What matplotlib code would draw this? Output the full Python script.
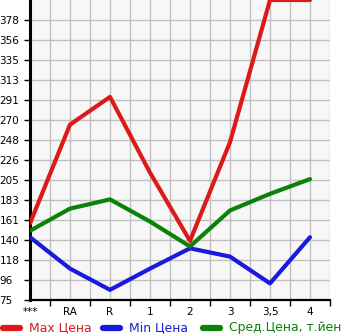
import matplotlib
matplotlib.use('Agg')
import matplotlib.pyplot as plt
from matplotlib.lines import Line2D
import numpy as np

# categories on the x axis
categories = ['***', 'RA', 'R', '1', '2', '3', '3,5', '4']

# price series
max_price = [158, 265, 295, 213, 139, 246, 400, 400]
min_price = [143, 109, 86, 109, 131, 122, 93, 143]
avg_price = [150, 174, 184, 160, 133, 172, 190, 206]

y_ticks = [75 + k * 325 / 15 for k in range(15)]
y_labels = ['75', '96', '118', '140', '161', '183', '205', '226',
            '248', '270', '291', '313', '335', '356', '378']

series_names = ['Max Цена', 'Min Цена', 'Сред.Цена, т.йен']
colors = ['#dc1a1a', '#1a1adc', '#0a820a']

fig = plt.figure(figsize=(3.45, 3.35), dpi=100)
ax = fig.add_axes([30 / 345, 1 - 300 / 335, 300 / 345, 300 / 335])
ax.set_facecolor('#f7f7f7')

x = np.arange(len(categories))
for vals, c in zip([max_price, min_price, avg_price], colors):
    ax.plot(x, vals, color=c, lw=3.0, solid_capstyle='round',
            solid_joinstyle='round', zorder=3)

ax.set_xlim(0, 7.5)
ax.set_ylim(75, 400)

# grid: every half category / every tick step
ax.set_xticks(x)
ax.set_xticklabels(categories, fontsize=7.5)
ax.set_xticks(np.arange(0.5, 8, 1), minor=True)
ax.set_yticks(y_ticks)
ax.set_yticklabels(y_labels, fontsize=7.5)
for lab in ax.get_yticklabels():
    lab.set_horizontalalignment('left')
ax.grid(True, which='both', color='#c0c0c0', lw=1)
ax.set_axisbelow(True)
ax.tick_params(axis='x', which='major', length=0, pad=5)
ax.tick_params(axis='x', which='minor', length=4, width=1, color='black')
ax.tick_params(axis='y', length=4, width=1, pad=18)

for s in ['top', 'right']:
    ax.spines[s].set_visible(False)
ax.spines['left'].set_linewidth(2.2)
ax.spines['bottom'].set_linewidth(1.6)

# legend along the bottom
for i, (name, c) in enumerate(zip(series_names, colors)):
    x0 = i * 100 / 345
    fig.add_artist(Line2D([x0 + 3 / 345, x0 + 20 / 345], [0.022, 0.022],
                          color=c, lw=4.5, solid_capstyle='round'))
    fig.text(x0 + 29 / 345, 0.022, name, color=c, fontsize=8.9, va='center')

fig.savefig('out.png', dpi=100)
